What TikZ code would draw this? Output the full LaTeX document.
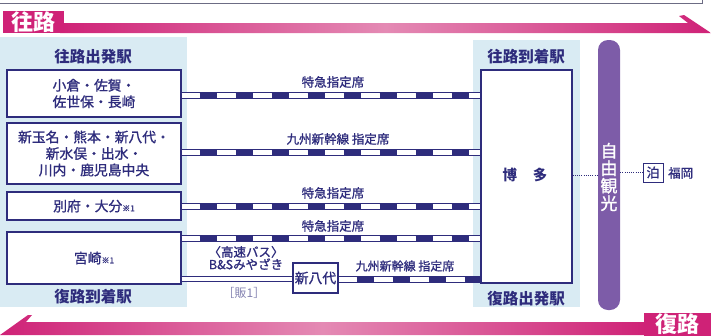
\documentclass[tikz,border=0pt]{standalone}
\usepackage{fontspec}
\newfontfamily\jp{Noto Sans CJK JP}
\newfontfamily\jpm[FakeBold=1.2]{Noto Sans CJK JP}
\usetikzlibrary{shapes.geometric}
\definecolor{navy}{HTML}{2E2C7C}
\definecolor{mag}{HTML}{CF2277}
\definecolor{pinkl}{HTML}{E48AB4}
\definecolor{lblue}{HTML}{D9EBF3}
\definecolor{purp}{HTML}{7D5CA8}
\definecolor{grayline}{HTML}{6C6C84}
\begin{document}
\begin{tikzpicture}[x=1pt,y=-1pt,font=\jp,
  box/.style={draw=navy,line width=1.1pt,fill=white,inner sep=0pt,align=center,text=navy,font=\jpm\fontsize{13.8}{16.5}\selectfont},
  hdr/.style={text=navy,font=\jp\bfseries\fontsize{15.5}{17}\selectfont,inner sep=0pt},
  lbl/.style={text=navy,font=\jpm\fontsize{12.5}{13}\selectfont,inner sep=0pt},
  tag/.style={fill=mag,text=white,font=\jp\bfseries\fontsize{22}{22}\selectfont,inner sep=0pt},
  rail/.style={draw=navy,line width=7pt,postaction={draw=white,line width=5pt},postaction={draw=navy,line width=5pt,dash pattern=on 17pt off 19pt,dash phase=18pt}},
  bus/.style={draw=navy,line width=6pt,postaction={draw=white,line width=4pt}},
  dotl/.style={draw=navy,line width=1pt,dash pattern=on 1pt off 1.2pt}]
\useasboundingbox (0,0) rectangle (711,335);
% top border remnant
\draw[grayline,line width=1pt] (0,3) -- (702,3) -- (702,0);
% top arrow bar
\shade[left color=mag,right color=mag,middle color=pinkl] (60,23) -- (688,23) -- (679,16) -- (684,15) -- (711,33) -- (60,33) -- cycle;
\node[tag,minimum width=61,minimum height=22] (out) at (33.5,22) {往路};
% bottom arrow bar
\shade[left color=mag,right color=mag,middle color=pinkl] (645,322) -- (26,322) -- (32,315) -- (28,315) -- (0,335) -- (645,335) -- cycle;
\node[tag,minimum width=67,minimum height=23] (ret) at (677.5,324) {復路};
% panels
\node[fill=lblue,minimum width=187,minimum height=270,inner sep=0pt] (lp) at (93.5,172) {};
\node[fill=lblue,minimum width=107,minimum height=267,inner sep=0pt] (rp) at (526.5,173.5) {};
\node[hdr] (h1) at (93,57) {往路出発駅};
\node[hdr] (h2) at (93,297) {復路到着駅};
\node[hdr] (h3) at (526,57) {往路到着駅};
\node[hdr] (h4) at (526,299) {復路出発駅};
% origin boxes
\node[box,minimum width=174,minimum height=47] (b1) at (94,93.5) {小倉・佐賀・\\佐世保・長崎};
\node[box,minimum width=174,minimum height=61] (b2) at (94,153.5) {新玉名・熊本・新八代・\\新水俣・出水・\\川内・鹿児島中央};
\node[box,minimum width=174,minimum height=28] (b3) at (94,206) {別府・大分{\fontsize{8}{9}\selectfont ※1}};
\node[box,minimum width=174,minimum height=52] (b4) at (94,258) {宮崎{\fontsize{8}{9}\selectfont ※1}};
% hakata
\node[box,minimum width=91,minimum height=213] (hk) at (526.5,176.5) {};
\node[text=navy,font=\jp\bfseries\fontsize{14.5}{16}\selectfont,inner sep=0pt] (hkt) at (525,175) {博\hspace{1.1em}多};
% shin-yatsushiro
\node[box,minimum width=45,minimum height=30] (sy) at (315.5,278) {新八代};
% purple bar
\node[fill=purp,rounded corners=10pt,minimum width=22,minimum height=270,inner sep=0pt] (pb) at (609,175) {};
\node[text=white,font=\jpm\fontsize{17}{17.5}\selectfont,align=center,inner sep=0pt] (pbt) at (609,177) {自\\由\\観\\光};
% tomari
\node[draw=navy,line width=0.9pt,fill=white,text=navy,minimum width=20,minimum height=19,inner sep=0pt,font=\jpm\fontsize{13}{14}\selectfont] (tm) at (653,172.5) {泊};
\node[text=navy,anchor=west,inner sep=0pt,font=\jpm\fontsize{12.5}{13}\selectfont] (fk) at (668,173) {福岡};
% connectors
\coordinate (c1) at ([yshift=-1.5pt]b1.east);
\coordinate (c2) at ([yshift=1.5pt]b2.east);
\coordinate (c3) at (b3.east);
\coordinate (c4) at ([yshift=-7pt]b4.north east);
\coordinate (c5) at ([yshift=6pt]b4.south east);
\coordinate (c6) at ([yshift=-1pt]sy.east);
\path[rail] (c1) -- (c1 -| hk.west);
\path[rail] (c2) -- (c2 -| hk.west);
\path[rail] (c3) -- (c3 -| hk.west);
\path[rail] (c4) -- (c4 -| hk.west);
\path[bus] (c5) -- (c5 -| sy.west);
\path[rail] (c6) -- (c6 -| hk.west);
\draw[navy,line width=1.1pt] (hk.north west) rectangle (hk.south east);
\draw[navy,line width=1.1pt] (sy.north west) rectangle (sy.south east);
\coordinate (d1) at (hk.east |- pb.center);
\path[dotl] (d1) -- (d1 -| pb.west);
\path[dotl] (pb.east |- tm.west) -- (tm.west);
% labels
\node[lbl] (l1) at (333,82) {特急指定席};
\node[lbl] (l2) at (338,139) {九州新幹線 指定席};
\node[lbl] (l3) at (333,193) {特急指定席};
\node[lbl] (l4) at (333,226) {特急指定席};
\node[lbl,font=\jpm\fontsize{12}{13}\selectfont] (l5) at (405,266) {九州新幹線 指定席};
\node[lbl,align=center,font=\jpm\fontsize{12.5}{12.5}\selectfont] (l6) at (246,258) {〈高速バス〉\\B\&Sみやざき};
\node[lbl,text=navy!60,font=\jp\fontsize{12}{12}\selectfont] (l7) at (244,293) {［販1］};
\end{tikzpicture}
\end{document}
